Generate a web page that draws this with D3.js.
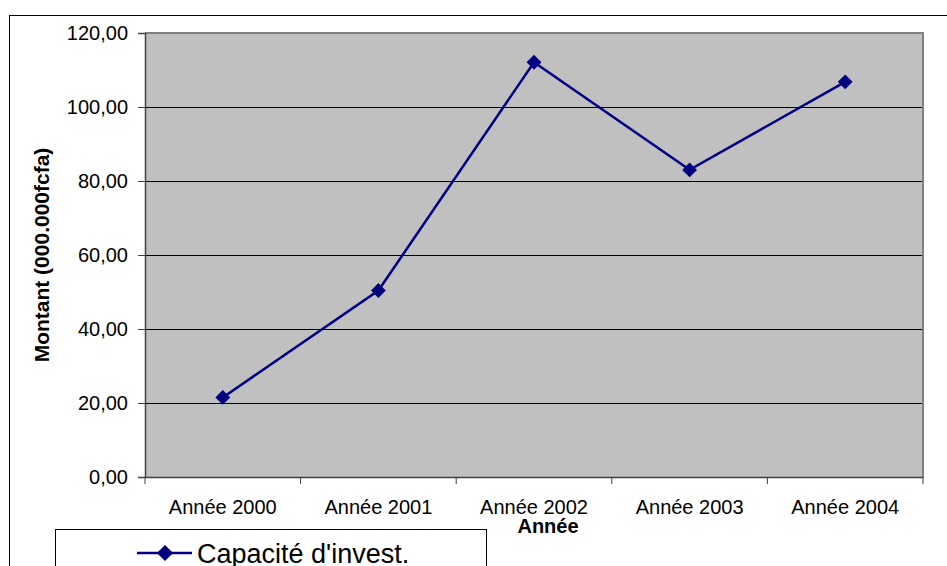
<!DOCTYPE html>
<html>
<head>
<meta charset="utf-8">
<script src="https://cdn.jsdelivr.net/npm/d3@7"></script>
<style>
  html, body { margin: 0; padding: 0; background: #fff; }
  svg { display: block; font-family: Arial, "Liberation Sans", sans-serif; }
</style>
</head>
<body>
<svg id="chart" width="947" height="566"></svg>
<script>
// Capacité d'investissement par année (en millions de FCFA)
const years = ["Année 2000", "Année 2001", "Année 2002", "Année 2003", "Année 2004"];
const capacite = [21.5, 50.4, 112.1, 83.0, 106.8];
const yTicks = [0, 20, 40, 60, 80, 100, 120];
const seriesName = "Capacité d'invest.";
const xTitle = "Année";
const yTitle = "Montant (000.000fcfa)";

const svg = d3.select("#chart");
const W = 947, H = 566;
const plot = { left: 145, top: 33, right: 923, bottom: 477 };

const fmt = v => d3.format(".2f")(v).replace(".", ",");

const x = d3.scaleBand().domain(years).range([plot.left, plot.right]).padding(0);
const y = d3.scaleLinear().domain([0, 120]).range([plot.bottom, plot.top]);

// outer chart frame
svg.append("rect")
  .attr("x", 9.5).attr("y", 15.5)
  .attr("width", W).attr("height", H)
  .attr("fill", "none").attr("stroke", "#000").attr("stroke-width", 1);

// plot background
svg.append("rect")
  .attr("x", plot.left).attr("y", plot.top)
  .attr("width", plot.right - plot.left).attr("height", plot.bottom - plot.top)
  .attr("fill", "#c0c0c0");

// horizontal gridlines
svg.append("g")
  .selectAll("line")
  .data(yTicks.filter(t => t > 0 && t < 120))
  .join("line")
  .attr("x1", plot.left).attr("x2", plot.right)
  .attr("y1", d => Math.round(y(d)) + 0.5).attr("y2", d => Math.round(y(d)) + 0.5)
  .attr("stroke", "#000").attr("stroke-width", 1);

// gray top/right edge of plot area
svg.append("path")
  .attr("d", `M${plot.left},${plot.top} H${plot.right} V${plot.bottom}`)
  .attr("fill", "none").attr("stroke", "#808080").attr("stroke-width", 2);

// y axis
const yAxis = svg.append("g")
  .attr("transform", `translate(${plot.left},0)`)
  .call(d3.axisLeft(y).tickValues(yTicks).tickFormat(fmt).tickSize(7).tickPadding(10));
yAxis.select(".domain").attr("stroke", "#404040").attr("stroke-width", 1.5);
yAxis.selectAll(".tick line").attr("stroke", "#404040");
yAxis.selectAll("text").attr("font-size", 20).attr("fill", "#000")
  .attr("font-family", "Arial, 'Liberation Sans', sans-serif");

// x axis: ticks on category boundaries
const xAxis = svg.append("g")
  .attr("transform", `translate(0,${plot.bottom})`)
  .call(d3.axisBottom(x).tickSize(0).tickPadding(23));
xAxis.select(".domain").attr("stroke", "#404040").attr("stroke-width", 1.5);
xAxis.selectAll("text").attr("font-size", 20).attr("fill", "#000")
  .attr("font-family", "Arial, 'Liberation Sans', sans-serif");
const bounds = years.map(d => x(d)).concat([x(years[years.length - 1]) + x.bandwidth()]);
svg.append("g").selectAll("line")
  .data(bounds)
  .join("line")
  .attr("x1", d => d).attr("x2", d => d)
  .attr("y1", plot.bottom).attr("y2", plot.bottom + 7)
  .attr("stroke", "#404040").attr("stroke-width", 1);

// axis titles
svg.append("text")
  .attr("x", 548).attr("y", 533)
  .attr("text-anchor", "middle")
  .attr("font-size", 20).attr("font-weight", "bold")
  .text(xTitle);

svg.append("text")
  .attr("transform", `translate(49,${(plot.top + plot.bottom) / 2}) rotate(-90)`)
  .attr("text-anchor", "middle")
  .attr("font-size", 21).attr("font-weight", "bold")
  .text(yTitle);

// series line with diamond markers
const cx = d => x(d) + x.bandwidth() / 2;
const line = d3.line().x((d, i) => cx(years[i])).y(d => y(d));
svg.append("path")
  .datum(capacite)
  .attr("d", line)
  .attr("fill", "none").attr("stroke", "#000080").attr("stroke-width", 2.5);

svg.append("g").selectAll("path")
  .data(capacite)
  .join("path")
  .attr("transform", (d, i) => `translate(${cx(years[i])},${y(d)}) rotate(45)`)
  .attr("d", d3.symbol().type(d3.symbolSquare).size(110))
  .attr("fill", "#000080");

// legend
const leg = svg.append("g");
leg.append("rect")
  .attr("x", 55.5).attr("y", 529.5)
  .attr("width", 431).attr("height", 60)
  .attr("fill", "#fff").attr("stroke", "#000").attr("stroke-width", 1);
leg.append("line")
  .attr("x1", 137).attr("x2", 192).attr("y1", 553).attr("y2", 553)
  .attr("stroke", "#000080").attr("stroke-width", 2.5);
leg.append("path")
  .attr("transform", "translate(165,553) rotate(45)")
  .attr("d", d3.symbol().type(d3.symbolSquare).size(130))
  .attr("fill", "#000080");
leg.append("text")
  .attr("x", 197).attr("y", 563)
  .attr("font-size", 27)
  .text(seriesName);
</script>
</body>
</html>
